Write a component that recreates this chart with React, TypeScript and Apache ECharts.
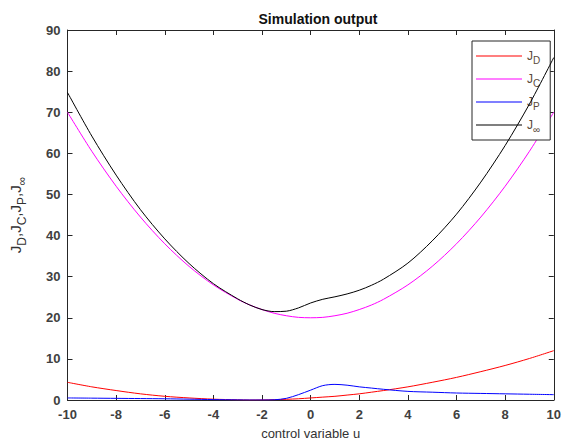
import React, { useEffect, useRef } from "react";
import * as echarts from "echarts";

const uValues = [-10, -9, -8, -7, -6, -5, -4, -3, -2.5, -2, -1.5, -1, -0.5, 0, 0.5, 1, 1.5, 2, 2.5, 3, 4, 5, 6, 7, 8, 9, 10];
const jD = [4.3, 3.2, 2.3, 1.5, 0.9, 0.5, 0.2, 0.05, 0, 0.02, 0.08, 0.17, 0.3, 0.5, 0.7, 0.9, 1.2, 1.5, 1.9, 2.3, 3.2, 4.3, 5.5, 6.9, 8.4, 10.1, 12];
const jC = [70, 60.5, 52, 44.5, 38, 32.5, 28, 24.5, 23.1, 22, 21.1, 20.5, 20.1, 20, 20.1, 20.5, 21.1, 22, 23.1, 24.5, 28, 32.5, 38, 44.5, 52, 60.5, 70];
const jP = [0.5, 0.45, 0.4, 0.35, 0.3, 0.2, 0.1, 0.03, 0, 0, 0.05, 0.4, 1.3, 2.4, 3.5, 3.8, 3.6, 3.2, 2.9, 2.6, 2.1, 1.9, 1.7, 1.6, 1.5, 1.4, 1.3];
const jInf = [74.8, 64.2, 54.7, 46.3, 39.2, 33.2, 28.3, 24.6, 23.1, 22.0, 21.5, 21.6, 22.4, 23.6, 24.5, 25.1, 25.8, 26.7, 27.9, 29.4, 33.3, 38.7, 45.2, 53.0, 61.9, 72.0, 83.3];

const seriesNames = ["J_D", "J_C", "J_P", "J_inf"];
const seriesLabels = ["{m|J}{s|D}", "{m|J}{s|C}", "{m|J}{s|P}", "{m|J}{s|∞}"];
const seriesColors = ["#ff0000", "#ff00ff", "#0000ff", "#000000"];
const seriesValues = [jD, jC, jP, jInf];

const FONT = "'Liberation Sans', Arial, sans-serif";

export default function App() {
  const ref = useRef<HTMLDivElement>(null);
  useEffect(() => {
    if (!ref.current) return;
    const chart = echarts.init(ref.current, undefined, { renderer: "svg" });
    const axisLine = { show: true, onZero: false, lineStyle: { color: "#262626", width: 1 } };
    const tick = { show: true, inside: true, length: 5, lineStyle: { color: "#262626" } };
    const labelStyle = { color: "#404040", fontSize: 13, fontFamily: FONT, fontWeight: "bold" as const };
    chart.setOption({
      animation: false,
      backgroundColor: "#ffffff",
      title: {
        text: "Simulation output",
        left: 313,
        textAlign: "center",
        top: 7,
        textStyle: { fontFamily: FONT, fontSize: 14, fontWeight: "bold", color: "#111" },
      },
      legend: {
        orient: "vertical",
        left: 472,
        top: 41,
        padding: [9, 10, 5, 4],
        icon: "rect",
        itemWidth: 46,
        itemHeight: 1.2,
        itemGap: 7,
        borderColor: "#262626",
        borderWidth: 1,
        borderRadius: 0,
        backgroundColor: "#ffffff",
        data: seriesNames,
        formatter: (name: string) => seriesLabels[seriesNames.indexOf(name)],
        textStyle: {
          rich: {
            m: { fontFamily: FONT, fontSize: 12, color: "#5a4a3a" },
            s: { fontFamily: FONT, fontSize: 10, color: "#5a4a3a", padding: [10, 0, 0, 0] },
          },
        },
      },
      grid: { left: 65, right: 2, top: 30, bottom: 42, containLabel: false },
      xAxis: [
        {
          type: "value",
          min: -10,
          max: 10,
          interval: 2,
          axisLine,
          axisTick: tick,
          axisLabel: { ...labelStyle, margin: 8 },
          splitLine: { show: false },
          name: "control variable u",
          nameLocation: "middle",
          nameGap: 27,
          nameTextStyle: { fontFamily: FONT, fontSize: 13, color: "#333" },
        },
        {
          type: "value",
          position: "top",
          min: -10,
          max: 10,
          interval: 2,
          axisLine,
          axisTick: tick,
          axisLabel: { show: false },
          splitLine: { show: false },
        },
      ],
      yAxis: [
        {
          type: "value",
          min: 0,
          max: 90,
          interval: 10,
          axisLine,
          axisTick: tick,
          axisLabel: { ...labelStyle, margin: 7 },
          splitLine: { show: false },
          name: "J{s|D},J{s|C},J{s|P},J{s|∞}",
          nameLocation: "middle",
          nameGap: 40,
          nameRotate: 90,
          nameTextStyle: {
            fontFamily: FONT,
            fontSize: 15,
            color: "#333",
            rich: { s: { fontFamily: FONT, fontSize: 12, color: "#333", padding: [12, 0, 0, 0] } },
          },
        },
        {
          type: "value",
          position: "right",
          min: 0,
          max: 90,
          interval: 10,
          axisLine,
          axisTick: tick,
          axisLabel: { show: false },
          splitLine: { show: false },
        },
      ],
      series: seriesNames.map((name, i) => ({
        name,
        type: "line",
        xAxisIndex: 0,
        yAxisIndex: 0,
        data: uValues.map((u, k) => [u, seriesValues[i][k]]),
        smooth: 0.3,
        showSymbol: false,
        symbol: "none",
        lineStyle: { color: seriesColors[i], width: 1 },
        itemStyle: { color: seriesColors[i] },
        z: 2 + i,
      })),
    });
    return () => chart.dispose();
  }, []);
  return <div ref={ref} style={{ width: 564, height: 445, position: "absolute", left: 0, top: 0 }} />;
}
